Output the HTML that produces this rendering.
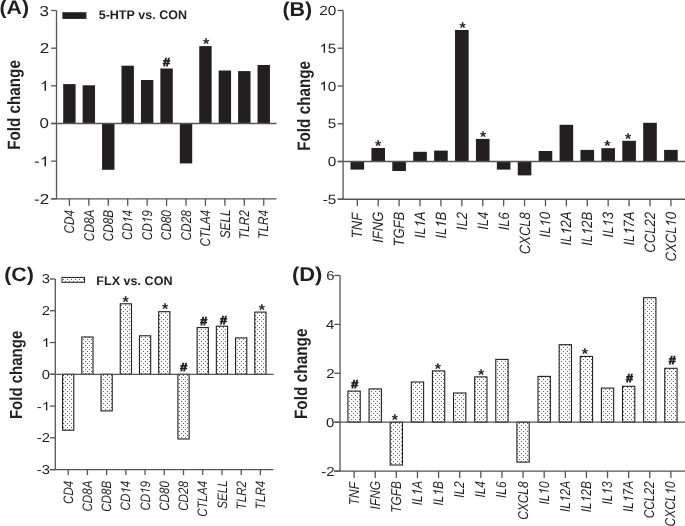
<!DOCTYPE html>
<html><head><meta charset="utf-8"><style>
html,body{margin:0;padding:0;background:#fff;}
svg{display:block;will-change:transform;}
text{text-rendering:geometricPrecision;font-family:"Liberation Sans", sans-serif;font-kerning:none;}
</style></head><body>
<svg width="685" height="526" viewBox="0 0 685 526">
<rect width="685" height="526" fill="#fff"/>
<defs><pattern id="dots" width="4" height="4" patternUnits="userSpaceOnUse"><rect width="4" height="4" fill="#fff"/><circle cx="1.5" cy="1.5" r="0.6" fill="#505050"/><circle cx="3.5" cy="3.5" r="0.6" fill="#505050"/><circle cx="-0.5" cy="3.5" r="0.6" fill="#505050"/></pattern></defs>
<rect x="63.20" y="84.10" width="12.40" height="39.40" fill="#231f20"/>
<rect x="82.64" y="85.30" width="12.40" height="38.20" fill="#231f20"/>
<rect x="102.07" y="123.50" width="12.40" height="46.30" fill="#231f20"/>
<rect x="121.50" y="65.70" width="12.40" height="57.80" fill="#231f20"/>
<rect x="140.94" y="80.00" width="12.40" height="43.50" fill="#231f20"/>
<rect x="160.38" y="68.50" width="12.40" height="55.00" fill="#231f20"/>
<rect x="179.81" y="123.50" width="12.40" height="39.90" fill="#231f20"/>
<rect x="199.25" y="46.10" width="12.40" height="77.40" fill="#231f20"/>
<rect x="218.68" y="70.50" width="12.40" height="53.00" fill="#231f20"/>
<rect x="238.12" y="71.10" width="12.40" height="52.40" fill="#231f20"/>
<rect x="257.55" y="65.00" width="12.40" height="58.50" fill="#231f20"/>
<line x1="56.50" y1="10.52" x2="56.50" y2="198.82" stroke="#555" stroke-width="1.3"/>
<line x1="51.10" y1="123.50" x2="276.50" y2="123.50" stroke="#555" stroke-width="1.3"/>
<line x1="51.10" y1="198.82" x2="276.50" y2="198.82" stroke="#555" stroke-width="1.3"/>
<line x1="51.10" y1="10.52" x2="56.50" y2="10.52" stroke="#555" stroke-width="1.3"/>
<text transform="translate(39.61,15.51) scale(1.170,1)" font-size="14.50" fill="#231f20">3</text>
<line x1="51.10" y1="48.18" x2="56.50" y2="48.18" stroke="#555" stroke-width="1.3"/>
<text transform="translate(39.72,53.24) scale(1.170,1)" font-size="14.50" fill="#231f20">2</text>
<line x1="51.10" y1="85.84" x2="56.50" y2="85.84" stroke="#555" stroke-width="1.3"/>
<g transform="translate(39.69,90.83) scale(1.170,1)" fill="#231f20"><text font-size="14.50"> </text><path transform="translate(0.000,0) scale(0.00708,-0.00708)" d="M763,0 L583,0 L583,1102 Q518,1043 415,985 Q312,926 223,895 L223,1062 Q374,1130 487,1227 Q600,1323 647,1409 L763,1409 Z"/></g>
<line x1="51.10" y1="123.50" x2="56.50" y2="123.50" stroke="#555" stroke-width="1.3"/>
<text transform="translate(39.53,128.49) scale(1.170,1)" font-size="14.50" fill="#231f20">0</text>
<line x1="51.10" y1="161.16" x2="56.50" y2="161.16" stroke="#555" stroke-width="1.3"/>
<g transform="translate(34.04,166.15) scale(1.170,1)" fill="#231f20"><text font-size="14.50">- </text><path transform="translate(4.829,0) scale(0.00708,-0.00708)" d="M763,0 L583,0 L583,1102 Q518,1043 415,985 Q312,926 223,895 L223,1062 Q374,1130 487,1227 Q600,1323 647,1409 L763,1409 Z"/></g>
<line x1="51.10" y1="198.82" x2="56.50" y2="198.82" stroke="#555" stroke-width="1.3"/>
<text transform="translate(34.07,203.88) scale(1.170,1)" font-size="14.50" fill="#231f20">-2</text>
<line x1="69.40" y1="198.82" x2="69.40" y2="205.82" stroke="#555" stroke-width="1.3"/>
<text transform="translate(74.10,233.46) rotate(-90) scale(1,1.200)" font-size="11.80" font-style="italic" fill="#231f20">CD4</text>
<line x1="88.84" y1="198.82" x2="88.84" y2="205.82" stroke="#555" stroke-width="1.3"/>
<text transform="translate(93.54,241.14) rotate(-90) scale(1,1.200)" font-size="11.80" font-style="italic" fill="#231f20">CD8A</text>
<line x1="108.27" y1="198.82" x2="108.27" y2="205.82" stroke="#555" stroke-width="1.3"/>
<text transform="translate(112.97,241.37) rotate(-90) scale(1,1.200)" font-size="11.80" font-style="italic" fill="#231f20">CD8B</text>
<line x1="127.70" y1="198.82" x2="127.70" y2="205.82" stroke="#555" stroke-width="1.3"/>
<g transform="translate(132.41,240.02) rotate(-90) scale(1,1.200)" fill="#231f20"><text font-size="11.80" font-style="italic">CD 4</text><path transform="translate(17.043,0) scale(0.00576,-0.00576) skewX(12) translate(-106,0)" d="M763,0 L583,0 L583,1102 Q518,1043 415,985 Q312,926 223,895 L223,1062 Q374,1130 487,1227 Q600,1323 647,1409 L763,1409 Z"/></g>
<line x1="147.14" y1="198.82" x2="147.14" y2="205.82" stroke="#555" stroke-width="1.3"/>
<g transform="translate(151.84,240.23) rotate(-90) scale(1,1.200)" fill="#231f20"><text font-size="11.80" font-style="italic">CD 9</text><path transform="translate(17.043,0) scale(0.00576,-0.00576) skewX(12) translate(-106,0)" d="M763,0 L583,0 L583,1102 Q518,1043 415,985 Q312,926 223,895 L223,1062 Q374,1130 487,1227 Q600,1323 647,1409 L763,1409 Z"/></g>
<line x1="166.57" y1="198.82" x2="166.57" y2="205.82" stroke="#555" stroke-width="1.3"/>
<text transform="translate(171.27,240.37) rotate(-90) scale(1,1.200)" font-size="11.80" font-style="italic" fill="#231f20">CD80</text>
<line x1="186.01" y1="198.82" x2="186.01" y2="205.82" stroke="#555" stroke-width="1.3"/>
<text transform="translate(190.71,240.40) rotate(-90) scale(1,1.200)" font-size="11.80" font-style="italic" fill="#231f20">CD28</text>
<line x1="205.44" y1="198.82" x2="205.44" y2="205.82" stroke="#555" stroke-width="1.3"/>
<text transform="translate(210.14,246.58) rotate(-90) scale(1,1.200)" font-size="11.80" font-style="italic" fill="#231f20">CTLA4</text>
<line x1="224.88" y1="198.82" x2="224.88" y2="205.82" stroke="#555" stroke-width="1.3"/>
<text transform="translate(229.58,238.34) rotate(-90) scale(1,1.200)" font-size="11.80" font-style="italic" fill="#231f20">SELL</text>
<line x1="244.31" y1="198.82" x2="244.31" y2="205.82" stroke="#555" stroke-width="1.3"/>
<text transform="translate(249.01,238.98) rotate(-90) scale(1,1.200)" font-size="11.80" font-style="italic" fill="#231f20">TLR2</text>
<line x1="263.75" y1="198.82" x2="263.75" y2="205.82" stroke="#555" stroke-width="1.3"/>
<text transform="translate(268.45,238.71) rotate(-90) scale(1,1.200)" font-size="11.80" font-style="italic" fill="#231f20">TLR4</text>
<text transform="translate(163.06,66.28) scale(1.100,1)" font-size="11.40" font-weight="bold" fill="#231f20" stroke="#231f20" stroke-width="0.8">#</text>
<text transform="translate(203.03,48.73) scale(1.030,1)" font-size="15.50" font-weight="bold" fill="#231f20">*</text>
<rect x="350.50" y="161.50" width="13.60" height="8.10" fill="#231f20"/>
<rect x="371.41" y="148.00" width="13.60" height="13.50" fill="#231f20"/>
<rect x="392.31" y="161.50" width="13.60" height="9.50" fill="#231f20"/>
<rect x="413.22" y="151.80" width="13.60" height="9.70" fill="#231f20"/>
<rect x="434.13" y="150.60" width="13.60" height="10.90" fill="#231f20"/>
<rect x="455.04" y="30.00" width="13.60" height="131.50" fill="#231f20"/>
<rect x="475.94" y="138.90" width="13.60" height="22.60" fill="#231f20"/>
<rect x="496.85" y="161.50" width="13.60" height="8.10" fill="#231f20"/>
<rect x="517.76" y="161.50" width="13.60" height="13.90" fill="#231f20"/>
<rect x="538.66" y="151.00" width="13.60" height="10.50" fill="#231f20"/>
<rect x="559.57" y="124.80" width="13.60" height="36.70" fill="#231f20"/>
<rect x="580.48" y="149.90" width="13.60" height="11.60" fill="#231f20"/>
<rect x="601.38" y="148.20" width="13.60" height="13.30" fill="#231f20"/>
<rect x="622.29" y="140.80" width="13.60" height="20.70" fill="#231f20"/>
<rect x="643.20" y="122.80" width="13.60" height="38.70" fill="#231f20"/>
<rect x="664.11" y="149.90" width="13.60" height="11.60" fill="#231f20"/>
<line x1="343.10" y1="10.46" x2="343.10" y2="199.26" stroke="#555" stroke-width="1.3"/>
<line x1="337.70" y1="161.50" x2="685.00" y2="161.50" stroke="#555" stroke-width="1.3"/>
<line x1="337.70" y1="199.26" x2="685.00" y2="199.26" stroke="#555" stroke-width="1.3"/>
<line x1="337.70" y1="10.46" x2="343.10" y2="10.46" stroke="#555" stroke-width="1.3"/>
<text transform="translate(319.28,15.04) scale(1.150,1)" font-size="13.30" fill="#231f20">20</text>
<line x1="337.70" y1="48.22" x2="343.10" y2="48.22" stroke="#555" stroke-width="1.3"/>
<g transform="translate(319.33,52.73) scale(1.150,1)" fill="#231f20"><text font-size="13.30"> 5</text><path transform="translate(0.000,0) scale(0.00649,-0.00649)" d="M763,0 L583,0 L583,1102 Q518,1043 415,985 Q312,926 223,895 L223,1062 Q374,1130 487,1227 Q600,1323 647,1409 L763,1409 Z"/></g>
<line x1="337.70" y1="85.98" x2="343.10" y2="85.98" stroke="#555" stroke-width="1.3"/>
<g transform="translate(319.28,90.56) scale(1.150,1)" fill="#231f20"><text font-size="13.30"> 0</text><path transform="translate(0.000,0) scale(0.00649,-0.00649)" d="M763,0 L583,0 L583,1102 Q518,1043 415,985 Q312,926 223,895 L223,1062 Q374,1130 487,1227 Q600,1323 647,1409 L763,1409 Z"/></g>
<line x1="337.70" y1="123.74" x2="343.10" y2="123.74" stroke="#555" stroke-width="1.3"/>
<text transform="translate(327.84,128.25) scale(1.150,1)" font-size="13.30" fill="#231f20">5</text>
<line x1="337.70" y1="161.50" x2="343.10" y2="161.50" stroke="#555" stroke-width="1.3"/>
<text transform="translate(327.79,166.08) scale(1.150,1)" font-size="13.30" fill="#231f20">0</text>
<line x1="337.70" y1="199.26" x2="343.10" y2="199.26" stroke="#555" stroke-width="1.3"/>
<text transform="translate(322.74,203.77) scale(1.150,1)" font-size="13.30" fill="#231f20">-5</text>
<line x1="357.30" y1="199.26" x2="357.30" y2="206.26" stroke="#555" stroke-width="1.3"/>
<text transform="translate(362.30,238.18) rotate(-90) scale(1,1.150)" font-size="13.05" font-style="italic" fill="#231f20">TNF</text>
<line x1="378.21" y1="199.26" x2="378.21" y2="206.26" stroke="#555" stroke-width="1.3"/>
<text transform="translate(383.21,242.81) rotate(-90) scale(1,1.150)" font-size="13.05" font-style="italic" fill="#231f20">IFNG</text>
<line x1="399.11" y1="199.26" x2="399.11" y2="206.26" stroke="#555" stroke-width="1.3"/>
<text transform="translate(404.11,246.55) rotate(-90) scale(1,1.150)" font-size="13.05" font-style="italic" fill="#231f20">TGFB</text>
<line x1="420.02" y1="199.26" x2="420.02" y2="206.26" stroke="#555" stroke-width="1.3"/>
<g transform="translate(425.02,238.34) rotate(-90) scale(1,1.150)" fill="#231f20"><text font-size="13.05" font-style="italic">IL A</text><path transform="translate(10.883,0) scale(0.00637,-0.00637) skewX(12) translate(-106,0)" d="M763,0 L583,0 L583,1102 Q518,1043 415,985 Q312,926 223,895 L223,1062 Q374,1130 487,1227 Q600,1323 647,1409 L763,1409 Z"/></g>
<line x1="440.93" y1="199.26" x2="440.93" y2="206.26" stroke="#555" stroke-width="1.3"/>
<g transform="translate(445.93,238.60) rotate(-90) scale(1,1.150)" fill="#231f20"><text font-size="13.05" font-style="italic">IL B</text><path transform="translate(10.883,0) scale(0.00637,-0.00637) skewX(12) translate(-106,0)" d="M763,0 L583,0 L583,1102 Q518,1043 415,985 Q312,926 223,895 L223,1062 Q374,1130 487,1227 Q600,1323 647,1409 L763,1409 Z"/></g>
<line x1="461.84" y1="199.26" x2="461.84" y2="206.26" stroke="#555" stroke-width="1.3"/>
<text transform="translate(466.84,230.15) rotate(-90) scale(1,1.150)" font-size="13.05" font-style="italic" fill="#231f20">IL2</text>
<line x1="482.74" y1="199.26" x2="482.74" y2="206.26" stroke="#555" stroke-width="1.3"/>
<text transform="translate(487.74,229.85) rotate(-90) scale(1,1.150)" font-size="13.05" font-style="italic" fill="#231f20">IL4</text>
<line x1="503.65" y1="199.26" x2="503.65" y2="206.26" stroke="#555" stroke-width="1.3"/>
<text transform="translate(508.65,230.34) rotate(-90) scale(1,1.150)" font-size="13.05" font-style="italic" fill="#231f20">IL6</text>
<line x1="524.56" y1="199.26" x2="524.56" y2="206.26" stroke="#555" stroke-width="1.3"/>
<text transform="translate(529.56,254.19) rotate(-90) scale(1,1.150)" font-size="13.05" font-style="italic" fill="#231f20">CXCL8</text>
<line x1="545.46" y1="199.26" x2="545.46" y2="206.26" stroke="#555" stroke-width="1.3"/>
<g transform="translate(550.46,237.49) rotate(-90) scale(1,1.150)" fill="#231f20"><text font-size="13.05" font-style="italic">IL 0</text><path transform="translate(10.883,0) scale(0.00637,-0.00637) skewX(12) translate(-106,0)" d="M763,0 L583,0 L583,1102 Q518,1043 415,985 Q312,926 223,895 L223,1062 Q374,1130 487,1227 Q600,1323 647,1409 L763,1409 Z"/></g>
<line x1="566.37" y1="199.26" x2="566.37" y2="206.26" stroke="#555" stroke-width="1.3"/>
<g transform="translate(571.37,245.60) rotate(-90) scale(1,1.150)" fill="#231f20"><text font-size="13.05" font-style="italic">IL 2A</text><path transform="translate(10.883,0) scale(0.00637,-0.00637) skewX(12) translate(-106,0)" d="M763,0 L583,0 L583,1102 Q518,1043 415,985 Q312,926 223,895 L223,1062 Q374,1130 487,1227 Q600,1323 647,1409 L763,1409 Z"/></g>
<line x1="587.28" y1="199.26" x2="587.28" y2="206.26" stroke="#555" stroke-width="1.3"/>
<g transform="translate(592.28,245.86) rotate(-90) scale(1,1.150)" fill="#231f20"><text font-size="13.05" font-style="italic">IL 2B</text><path transform="translate(10.883,0) scale(0.00637,-0.00637) skewX(12) translate(-106,0)" d="M763,0 L583,0 L583,1102 Q518,1043 415,985 Q312,926 223,895 L223,1062 Q374,1130 487,1227 Q600,1323 647,1409 L763,1409 Z"/></g>
<line x1="608.18" y1="199.26" x2="608.18" y2="206.26" stroke="#555" stroke-width="1.3"/>
<g transform="translate(613.18,237.48) rotate(-90) scale(1,1.150)" fill="#231f20"><text font-size="13.05" font-style="italic">IL 3</text><path transform="translate(10.883,0) scale(0.00637,-0.00637) skewX(12) translate(-106,0)" d="M763,0 L583,0 L583,1102 Q518,1043 415,985 Q312,926 223,895 L223,1062 Q374,1130 487,1227 Q600,1323 647,1409 L763,1409 Z"/></g>
<line x1="629.09" y1="199.26" x2="629.09" y2="206.26" stroke="#555" stroke-width="1.3"/>
<g transform="translate(634.09,245.60) rotate(-90) scale(1,1.150)" fill="#231f20"><text font-size="13.05" font-style="italic">IL 7A</text><path transform="translate(10.883,0) scale(0.00637,-0.00637) skewX(12) translate(-106,0)" d="M763,0 L583,0 L583,1102 Q518,1043 415,985 Q312,926 223,895 L223,1062 Q374,1130 487,1227 Q600,1323 647,1409 L763,1409 Z"/></g>
<line x1="650.00" y1="199.26" x2="650.00" y2="206.26" stroke="#555" stroke-width="1.3"/>
<text transform="translate(655.00,252.63) rotate(-90) scale(1,1.150)" font-size="13.05" font-style="italic" fill="#231f20">CCL22</text>
<line x1="670.90" y1="199.26" x2="670.90" y2="206.26" stroke="#555" stroke-width="1.3"/>
<g transform="translate(675.90,261.42) rotate(-90) scale(1,1.150)" fill="#231f20"><text font-size="13.05" font-style="italic">CXCL 0</text><path transform="translate(34.811,0) scale(0.00637,-0.00637) skewX(12) translate(-106,0)" d="M763,0 L583,0 L583,1102 Q518,1043 415,985 Q312,926 223,895 L223,1062 Q374,1130 487,1227 Q600,1323 647,1409 L763,1409 Z"/></g>
<text transform="translate(374.88,151.13) scale(1.030,1)" font-size="15.50" font-weight="bold" fill="#231f20">*</text>
<text transform="translate(459.43,32.63) scale(1.030,1)" font-size="15.50" font-weight="bold" fill="#231f20">*</text>
<text transform="translate(479.88,142.43) scale(1.030,1)" font-size="15.50" font-weight="bold" fill="#231f20">*</text>
<text transform="translate(604.13,151.33) scale(1.030,1)" font-size="15.50" font-weight="bold" fill="#231f20">*</text>
<text transform="translate(624.88,144.03) scale(1.030,1)" font-size="15.50" font-weight="bold" fill="#231f20">*</text>
<rect x="62.60" y="374.30" width="11.20" height="55.90" fill="url(#dots)" stroke="#231f20" stroke-width="1.1"/>
<rect x="81.82" y="337.00" width="11.20" height="37.30" fill="url(#dots)" stroke="#231f20" stroke-width="1.1"/>
<rect x="101.04" y="374.30" width="11.20" height="36.60" fill="url(#dots)" stroke="#231f20" stroke-width="1.1"/>
<rect x="120.26" y="303.80" width="11.20" height="70.50" fill="url(#dots)" stroke="#231f20" stroke-width="1.1"/>
<rect x="139.48" y="335.80" width="11.20" height="38.50" fill="url(#dots)" stroke="#231f20" stroke-width="1.1"/>
<rect x="158.70" y="311.70" width="11.20" height="62.60" fill="url(#dots)" stroke="#231f20" stroke-width="1.1"/>
<rect x="177.92" y="374.30" width="11.20" height="64.70" fill="url(#dots)" stroke="#231f20" stroke-width="1.1"/>
<rect x="197.14" y="327.60" width="11.20" height="46.70" fill="url(#dots)" stroke="#231f20" stroke-width="1.1"/>
<rect x="216.36" y="326.20" width="11.20" height="48.10" fill="url(#dots)" stroke="#231f20" stroke-width="1.1"/>
<rect x="235.58" y="337.90" width="11.20" height="36.40" fill="url(#dots)" stroke="#231f20" stroke-width="1.1"/>
<rect x="254.80" y="312.10" width="11.20" height="62.20" fill="url(#dots)" stroke="#231f20" stroke-width="1.1"/>
<line x1="55.30" y1="278.99" x2="55.30" y2="469.61" stroke="#555" stroke-width="1.3"/>
<line x1="49.90" y1="374.30" x2="273.50" y2="374.30" stroke="#555" stroke-width="1.3"/>
<line x1="49.90" y1="469.61" x2="273.50" y2="469.61" stroke="#555" stroke-width="1.3"/>
<line x1="49.90" y1="278.99" x2="55.30" y2="278.99" stroke="#555" stroke-width="1.3"/>
<text transform="translate(41.70,283.43) scale(1.150,1)" font-size="12.90" fill="#231f20">3</text>
<line x1="49.90" y1="310.76" x2="55.30" y2="310.76" stroke="#555" stroke-width="1.3"/>
<text transform="translate(41.80,315.26) scale(1.150,1)" font-size="12.90" fill="#231f20">2</text>
<line x1="49.90" y1="342.53" x2="55.30" y2="342.53" stroke="#555" stroke-width="1.3"/>
<g transform="translate(41.77,346.97) scale(1.150,1)" fill="#231f20"><text font-size="12.90"> </text><path transform="translate(0.000,0) scale(0.00630,-0.00630)" d="M763,0 L583,0 L583,1102 Q518,1043 415,985 Q312,926 223,895 L223,1062 Q374,1130 487,1227 Q600,1323 647,1409 L763,1409 Z"/></g>
<line x1="49.90" y1="374.30" x2="55.30" y2="374.30" stroke="#555" stroke-width="1.3"/>
<text transform="translate(41.63,378.74) scale(1.150,1)" font-size="12.90" fill="#231f20">0</text>
<line x1="49.90" y1="406.07" x2="55.30" y2="406.07" stroke="#555" stroke-width="1.3"/>
<g transform="translate(36.83,410.51) scale(1.150,1)" fill="#231f20"><text font-size="12.90">- </text><path transform="translate(4.296,0) scale(0.00630,-0.00630)" d="M763,0 L583,0 L583,1102 Q518,1043 415,985 Q312,926 223,895 L223,1062 Q374,1130 487,1227 Q600,1323 647,1409 L763,1409 Z"/></g>
<line x1="49.90" y1="437.84" x2="55.30" y2="437.84" stroke="#555" stroke-width="1.3"/>
<text transform="translate(36.86,442.34) scale(1.150,1)" font-size="12.90" fill="#231f20">-2</text>
<line x1="49.90" y1="469.61" x2="55.30" y2="469.61" stroke="#555" stroke-width="1.3"/>
<text transform="translate(36.76,474.05) scale(1.150,1)" font-size="12.90" fill="#231f20">-3</text>
<line x1="68.20" y1="469.61" x2="68.20" y2="475.11" stroke="#555" stroke-width="1.3"/>
<text transform="translate(72.80,503.97) rotate(-90) scale(1,1.180)" font-size="11.60" font-style="italic" fill="#231f20">CD4</text>
<line x1="87.42" y1="469.61" x2="87.42" y2="475.11" stroke="#555" stroke-width="1.3"/>
<text transform="translate(92.02,511.52) rotate(-90) scale(1,1.180)" font-size="11.60" font-style="italic" fill="#231f20">CD8A</text>
<line x1="106.64" y1="469.61" x2="106.64" y2="475.11" stroke="#555" stroke-width="1.3"/>
<text transform="translate(111.24,511.75) rotate(-90) scale(1,1.180)" font-size="11.60" font-style="italic" fill="#231f20">CD8B</text>
<line x1="125.86" y1="469.61" x2="125.86" y2="475.11" stroke="#555" stroke-width="1.3"/>
<g transform="translate(130.46,510.42) rotate(-90) scale(1,1.180)" fill="#231f20"><text font-size="11.60" font-style="italic">CD 4</text><path transform="translate(16.754,0) scale(0.00566,-0.00566) skewX(12) translate(-106,0)" d="M763,0 L583,0 L583,1102 Q518,1043 415,985 Q312,926 223,895 L223,1062 Q374,1130 487,1227 Q600,1323 647,1409 L763,1409 Z"/></g>
<line x1="145.08" y1="469.61" x2="145.08" y2="475.11" stroke="#555" stroke-width="1.3"/>
<g transform="translate(149.68,510.62) rotate(-90) scale(1,1.180)" fill="#231f20"><text font-size="11.60" font-style="italic">CD 9</text><path transform="translate(16.754,0) scale(0.00566,-0.00566) skewX(12) translate(-106,0)" d="M763,0 L583,0 L583,1102 Q518,1043 415,985 Q312,926 223,895 L223,1062 Q374,1130 487,1227 Q600,1323 647,1409 L763,1409 Z"/></g>
<line x1="164.30" y1="469.61" x2="164.30" y2="475.11" stroke="#555" stroke-width="1.3"/>
<text transform="translate(168.90,510.76) rotate(-90) scale(1,1.180)" font-size="11.60" font-style="italic" fill="#231f20">CD80</text>
<line x1="183.52" y1="469.61" x2="183.52" y2="475.11" stroke="#555" stroke-width="1.3"/>
<text transform="translate(188.12,510.79) rotate(-90) scale(1,1.180)" font-size="11.60" font-style="italic" fill="#231f20">CD28</text>
<line x1="202.74" y1="469.61" x2="202.74" y2="475.11" stroke="#555" stroke-width="1.3"/>
<text transform="translate(207.34,516.87) rotate(-90) scale(1,1.180)" font-size="11.60" font-style="italic" fill="#231f20">CTLA4</text>
<line x1="221.96" y1="469.61" x2="221.96" y2="475.11" stroke="#555" stroke-width="1.3"/>
<text transform="translate(226.56,508.77) rotate(-90) scale(1,1.180)" font-size="11.60" font-style="italic" fill="#231f20">SELL</text>
<line x1="241.18" y1="469.61" x2="241.18" y2="475.11" stroke="#555" stroke-width="1.3"/>
<text transform="translate(245.78,509.40) rotate(-90) scale(1,1.180)" font-size="11.60" font-style="italic" fill="#231f20">TLR2</text>
<line x1="260.40" y1="469.61" x2="260.40" y2="475.11" stroke="#555" stroke-width="1.3"/>
<text transform="translate(265.00,509.13) rotate(-90) scale(1,1.180)" font-size="11.60" font-style="italic" fill="#231f20">TLR4</text>
<text transform="translate(122.38,306.58) scale(1.030,1)" font-size="15.50" font-weight="bold" fill="#231f20">*</text>
<text transform="translate(161.98,314.48) scale(1.030,1)" font-size="15.50" font-weight="bold" fill="#231f20">*</text>
<text transform="translate(180.31,370.53) scale(1.100,1)" font-size="11.40" font-weight="bold" fill="#231f20" stroke="#231f20" stroke-width="0.8">#</text>
<text transform="translate(200.36,325.13) scale(1.100,1)" font-size="11.40" font-weight="bold" fill="#231f20" stroke="#231f20" stroke-width="0.8">#</text>
<text transform="translate(219.96,323.78) scale(1.100,1)" font-size="11.40" font-weight="bold" fill="#231f20" stroke="#231f20" stroke-width="0.8">#</text>
<text transform="translate(258.63,314.73) scale(1.030,1)" font-size="15.50" font-weight="bold" fill="#231f20">*</text>
<rect x="347.95" y="391.10" width="12.30" height="31.10" fill="url(#dots)" stroke="#231f20" stroke-width="1.1"/>
<rect x="369.07" y="388.90" width="12.30" height="33.30" fill="url(#dots)" stroke="#231f20" stroke-width="1.1"/>
<rect x="390.19" y="422.20" width="12.30" height="42.80" fill="url(#dots)" stroke="#231f20" stroke-width="1.1"/>
<rect x="411.31" y="382.00" width="12.30" height="40.20" fill="url(#dots)" stroke="#231f20" stroke-width="1.1"/>
<rect x="432.43" y="370.90" width="12.30" height="51.30" fill="url(#dots)" stroke="#231f20" stroke-width="1.1"/>
<rect x="453.55" y="393.00" width="12.30" height="29.20" fill="url(#dots)" stroke="#231f20" stroke-width="1.1"/>
<rect x="474.67" y="376.90" width="12.30" height="45.30" fill="url(#dots)" stroke="#231f20" stroke-width="1.1"/>
<rect x="495.79" y="359.40" width="12.30" height="62.80" fill="url(#dots)" stroke="#231f20" stroke-width="1.1"/>
<rect x="516.91" y="422.20" width="12.30" height="39.90" fill="url(#dots)" stroke="#231f20" stroke-width="1.1"/>
<rect x="538.03" y="376.40" width="12.30" height="45.80" fill="url(#dots)" stroke="#231f20" stroke-width="1.1"/>
<rect x="559.15" y="344.70" width="12.30" height="77.50" fill="url(#dots)" stroke="#231f20" stroke-width="1.1"/>
<rect x="580.27" y="356.40" width="12.30" height="65.80" fill="url(#dots)" stroke="#231f20" stroke-width="1.1"/>
<rect x="601.39" y="388.10" width="12.30" height="34.10" fill="url(#dots)" stroke="#231f20" stroke-width="1.1"/>
<rect x="622.51" y="386.30" width="12.30" height="35.90" fill="url(#dots)" stroke="#231f20" stroke-width="1.1"/>
<rect x="643.63" y="297.70" width="12.30" height="124.50" fill="url(#dots)" stroke="#231f20" stroke-width="1.1"/>
<rect x="664.75" y="368.30" width="12.30" height="53.90" fill="url(#dots)" stroke="#231f20" stroke-width="1.1"/>
<line x1="340.05" y1="275.50" x2="340.05" y2="471.10" stroke="#555" stroke-width="1.3"/>
<line x1="334.25" y1="422.20" x2="685.00" y2="422.20" stroke="#555" stroke-width="1.3"/>
<line x1="334.25" y1="471.10" x2="685.00" y2="471.10" stroke="#555" stroke-width="1.3"/>
<line x1="334.25" y1="275.50" x2="340.05" y2="275.50" stroke="#555" stroke-width="1.3"/>
<text transform="translate(326.14,279.98) scale(1.150,1)" font-size="13.00" fill="#231f20">6</text>
<line x1="334.25" y1="324.40" x2="340.05" y2="324.40" stroke="#555" stroke-width="1.3"/>
<text transform="translate(325.92,328.87) scale(1.150,1)" font-size="13.00" fill="#231f20">4</text>
<line x1="334.25" y1="373.30" x2="340.05" y2="373.30" stroke="#555" stroke-width="1.3"/>
<text transform="translate(326.24,377.84) scale(1.150,1)" font-size="13.00" fill="#231f20">2</text>
<line x1="334.25" y1="422.20" x2="340.05" y2="422.20" stroke="#555" stroke-width="1.3"/>
<text transform="translate(326.07,426.68) scale(1.150,1)" font-size="13.00" fill="#231f20">0</text>
<line x1="334.25" y1="471.10" x2="340.05" y2="471.10" stroke="#555" stroke-width="1.3"/>
<text transform="translate(321.26,475.64) scale(1.150,1)" font-size="13.00" fill="#231f20">-2</text>
<line x1="354.10" y1="471.10" x2="354.10" y2="478.10" stroke="#555" stroke-width="1.3"/>
<text transform="translate(358.60,505.19) rotate(-90) scale(1,1.200)" font-size="11.90" font-style="italic" fill="#231f20">TNF</text>
<line x1="375.22" y1="471.10" x2="375.22" y2="478.10" stroke="#555" stroke-width="1.3"/>
<text transform="translate(379.72,509.41) rotate(-90) scale(1,1.200)" font-size="11.90" font-style="italic" fill="#231f20">IFNG</text>
<line x1="396.34" y1="471.10" x2="396.34" y2="478.10" stroke="#555" stroke-width="1.3"/>
<text transform="translate(400.84,512.82) rotate(-90) scale(1,1.200)" font-size="11.90" font-style="italic" fill="#231f20">TGFB</text>
<line x1="417.46" y1="471.10" x2="417.46" y2="478.10" stroke="#555" stroke-width="1.3"/>
<g transform="translate(421.96,505.34) rotate(-90) scale(1,1.200)" fill="#231f20"><text font-size="11.90" font-style="italic">IL A</text><path transform="translate(9.924,0) scale(0.00581,-0.00581) skewX(12) translate(-106,0)" d="M763,0 L583,0 L583,1102 Q518,1043 415,985 Q312,926 223,895 L223,1062 Q374,1130 487,1227 Q600,1323 647,1409 L763,1409 Z"/></g>
<line x1="438.58" y1="471.10" x2="438.58" y2="478.10" stroke="#555" stroke-width="1.3"/>
<g transform="translate(443.08,505.57) rotate(-90) scale(1,1.200)" fill="#231f20"><text font-size="11.90" font-style="italic">IL B</text><path transform="translate(9.924,0) scale(0.00581,-0.00581) skewX(12) translate(-106,0)" d="M763,0 L583,0 L583,1102 Q518,1043 415,985 Q312,926 223,895 L223,1062 Q374,1130 487,1227 Q600,1323 647,1409 L763,1409 Z"/></g>
<line x1="459.70" y1="471.10" x2="459.70" y2="478.10" stroke="#555" stroke-width="1.3"/>
<text transform="translate(464.20,497.87) rotate(-90) scale(1,1.200)" font-size="11.90" font-style="italic" fill="#231f20">IL2</text>
<line x1="480.82" y1="471.10" x2="480.82" y2="478.10" stroke="#555" stroke-width="1.3"/>
<text transform="translate(485.32,497.60) rotate(-90) scale(1,1.200)" font-size="11.90" font-style="italic" fill="#231f20">IL4</text>
<line x1="501.94" y1="471.10" x2="501.94" y2="478.10" stroke="#555" stroke-width="1.3"/>
<text transform="translate(506.44,498.04) rotate(-90) scale(1,1.200)" font-size="11.90" font-style="italic" fill="#231f20">IL6</text>
<line x1="523.06" y1="471.10" x2="523.06" y2="478.10" stroke="#555" stroke-width="1.3"/>
<text transform="translate(527.56,519.79) rotate(-90) scale(1,1.200)" font-size="11.90" font-style="italic" fill="#231f20">CXCL8</text>
<line x1="544.18" y1="471.10" x2="544.18" y2="478.10" stroke="#555" stroke-width="1.3"/>
<g transform="translate(548.68,504.56) rotate(-90) scale(1,1.200)" fill="#231f20"><text font-size="11.90" font-style="italic">IL 0</text><path transform="translate(9.924,0) scale(0.00581,-0.00581) skewX(12) translate(-106,0)" d="M763,0 L583,0 L583,1102 Q518,1043 415,985 Q312,926 223,895 L223,1062 Q374,1130 487,1227 Q600,1323 647,1409 L763,1409 Z"/></g>
<line x1="565.30" y1="471.10" x2="565.30" y2="478.10" stroke="#555" stroke-width="1.3"/>
<g transform="translate(569.80,511.96) rotate(-90) scale(1,1.200)" fill="#231f20"><text font-size="11.90" font-style="italic">IL 2A</text><path transform="translate(9.924,0) scale(0.00581,-0.00581) skewX(12) translate(-106,0)" d="M763,0 L583,0 L583,1102 Q518,1043 415,985 Q312,926 223,895 L223,1062 Q374,1130 487,1227 Q600,1323 647,1409 L763,1409 Z"/></g>
<line x1="586.42" y1="471.10" x2="586.42" y2="478.10" stroke="#555" stroke-width="1.3"/>
<g transform="translate(590.92,512.19) rotate(-90) scale(1,1.200)" fill="#231f20"><text font-size="11.90" font-style="italic">IL 2B</text><path transform="translate(9.924,0) scale(0.00581,-0.00581) skewX(12) translate(-106,0)" d="M763,0 L583,0 L583,1102 Q518,1043 415,985 Q312,926 223,895 L223,1062 Q374,1130 487,1227 Q600,1323 647,1409 L763,1409 Z"/></g>
<line x1="607.54" y1="471.10" x2="607.54" y2="478.10" stroke="#555" stroke-width="1.3"/>
<g transform="translate(612.04,504.56) rotate(-90) scale(1,1.200)" fill="#231f20"><text font-size="11.90" font-style="italic">IL 3</text><path transform="translate(9.924,0) scale(0.00581,-0.00581) skewX(12) translate(-106,0)" d="M763,0 L583,0 L583,1102 Q518,1043 415,985 Q312,926 223,895 L223,1062 Q374,1130 487,1227 Q600,1323 647,1409 L763,1409 Z"/></g>
<line x1="628.66" y1="471.10" x2="628.66" y2="478.10" stroke="#555" stroke-width="1.3"/>
<g transform="translate(633.16,511.96) rotate(-90) scale(1,1.200)" fill="#231f20"><text font-size="11.90" font-style="italic">IL 7A</text><path transform="translate(9.924,0) scale(0.00581,-0.00581) skewX(12) translate(-106,0)" d="M763,0 L583,0 L583,1102 Q518,1043 415,985 Q312,926 223,895 L223,1062 Q374,1130 487,1227 Q600,1323 647,1409 L763,1409 Z"/></g>
<line x1="649.78" y1="471.10" x2="649.78" y2="478.10" stroke="#555" stroke-width="1.3"/>
<text transform="translate(654.28,518.37) rotate(-90) scale(1,1.200)" font-size="11.90" font-style="italic" fill="#231f20">CCL22</text>
<line x1="670.90" y1="471.10" x2="670.90" y2="478.10" stroke="#555" stroke-width="1.3"/>
<g transform="translate(675.40,526.38) rotate(-90) scale(1,1.200)" fill="#231f20"><text font-size="11.90" font-style="italic">CXCL 0</text><path transform="translate(31.743,0) scale(0.00581,-0.00581) skewX(12) translate(-106,0)" d="M763,0 L583,0 L583,1102 Q518,1043 415,985 Q312,926 223,895 L223,1062 Q374,1130 487,1227 Q600,1323 647,1409 L763,1409 Z"/></g>
<text transform="translate(351.21,388.08) scale(1.100,1)" font-size="11.40" font-weight="bold" fill="#231f20" stroke="#231f20" stroke-width="0.8">#</text>
<text transform="translate(391.83,424.98) scale(1.030,1)" font-size="15.50" font-weight="bold" fill="#231f20">*</text>
<text transform="translate(434.78,374.43) scale(1.030,1)" font-size="15.50" font-weight="bold" fill="#231f20">*</text>
<text transform="translate(478.03,379.78) scale(1.030,1)" font-size="15.50" font-weight="bold" fill="#231f20">*</text>
<text transform="translate(581.63,359.43) scale(1.030,1)" font-size="15.50" font-weight="bold" fill="#231f20">*</text>
<text transform="translate(626.01,382.28) scale(1.100,1)" font-size="11.40" font-weight="bold" fill="#231f20" stroke="#231f20" stroke-width="0.8">#</text>
<text transform="translate(668.86,364.33) scale(1.100,1)" font-size="11.40" font-weight="bold" fill="#231f20" stroke="#231f20" stroke-width="0.8">#</text>
<text transform="translate(-0.46,14.23) scale(1.083,1)" font-size="19.63" font-weight="bold" fill="#231f20">(A)</text>
<text transform="translate(282.43,15.74) scale(1.068,1)" font-size="20.06" font-weight="bold" fill="#231f20">(B)</text>
<text transform="translate(4.23,280.95) scale(1.097,1)" font-size="19.53" font-weight="bold" fill="#231f20">(C)</text>
<text transform="translate(291.91,281.16) scale(1.101,1)" font-size="19.95" font-weight="bold" fill="#231f20">(D)</text>
<text transform="translate(20.25,149.82) rotate(-90) scale(1,1.168)" font-size="15.24" font-weight="bold" fill="#231f20">Fold change</text>
<text transform="translate(310.10,150.82) rotate(-90) scale(1,1.180)" font-size="15.27" font-weight="bold" fill="#231f20">Fold change</text>
<text transform="translate(22.00,419.10) rotate(-90) scale(1,1.162)" font-size="15.01" font-weight="bold" fill="#231f20">Fold change</text>
<text transform="translate(307.30,419.03) rotate(-90) scale(1,1.163)" font-size="15.38" font-weight="bold" fill="#231f20">Fold change</text>
<rect x="62.4" y="12.2" width="24" height="6.7" fill="#231f20"/>
<text transform="translate(98.71,19.48) scale(1.007,1)" font-size="12.43" font-weight="bold" fill="#231f20">5-HTP vs. CON</text>
<rect x="62" y="277.4" width="22.5" height="4.9" fill="url(#dots)" stroke="#231f20" stroke-width="1"/>
<text transform="translate(96.36,284.68) scale(1.012,1)" font-size="12.43" font-weight="bold" fill="#231f20">FLX vs. CON</text>
</svg></body></html>
